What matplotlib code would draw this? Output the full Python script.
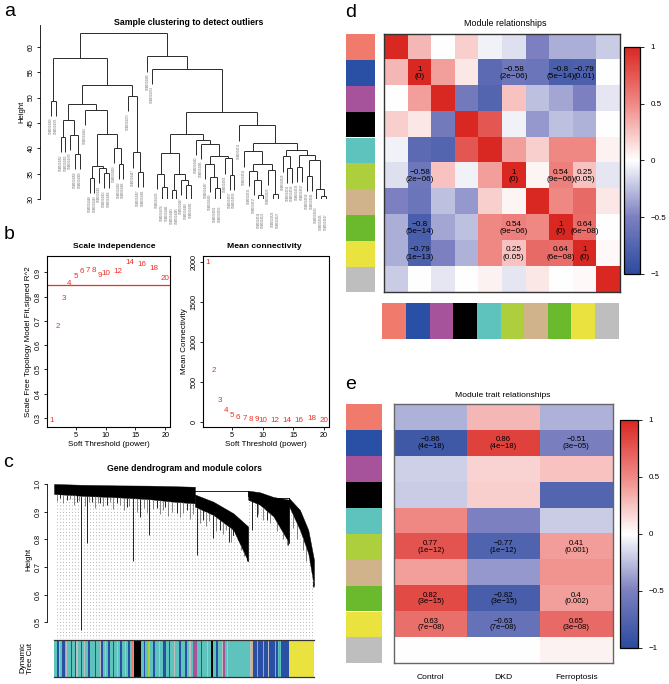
import numpy as np
import matplotlib
matplotlib.use("Agg")
import matplotlib.pyplot as plt
from matplotlib.colors import LinearSegmentedColormap, Normalize
from matplotlib.cm import ScalarMappable

plt.rcParams['font.family'] = ['Liberation Sans', 'DejaVu Sans']

W, H = 669, 684

# ======================= DATA =======================
# ---- panel a: sample clustering tree: [merge height, left, right]; "L" = sample leaf
L = "L"
sample_tree = [62.8,
  [57.8,
    [49.4, L, L],
    [52.5,
      [48.7,
        [45.6, [42.2, L, L], [42.6, L, [38.9, L, L]]],
        [47.6, L, [42.8, [36.6, [34.1, L, L], [36.1, L, [35.1, L, L]]],
                         [40.0, L, [36.9, L, L]]]]],
      [50.3, L, [39.2, L, [35.3, L, L]]]]],
  [58.1,
    L,
    [55.6, L,
      [47.1,
        [42.8,
          [39.0, [34.9, L, [32.4, L, L]], [35.0, [31.7, L, L], [33.8, L, [32.8, L, L]]]],
          [41.7, L, [40.9, L, [38.5, [36.9, L, [34.4, L, [32.1, L, L]]], [38.0, L, [34.8, L, L]]]]]],
        [44.5, L,
          [41.1,
            [39.4, L, [36.9, [35.6, L, [33.8, L, [30.8, L, L]]], [35.7, L, [31.0, L, L]]]],
            [39.7, [38.4, L, [36.2, L, L]],
                   [38.6, [36.4, L, L], [37.6, [34.6, L, L], [32.0, L, [30.5, L, L]]]]]]]]]]]
sample_names = [
 "GSM1004469", "GSM1004471", "GSM1004452", "GSM1004455", "GSM1004470", "GSM1004458",
 "GSM1004460", "GSM1004464", "GSM1004448", "GSM1004449", "GSM1004451", "GSM1004453",
 "GSM1004456", "GSM1004459", "GSM1004462", "GSM1004466", "GSM1004473", "GSM1004447",
 "GSM1004457", "GSM1004461", "GSM1004468", "GSM1004474", "GSM1004476", "GSM1004478",
 "GSM1004481", "GSM1004483", "GSM1004485", "GSM1004487", "GSM1004489", "GSM1004491",
 "GSM1004493", "GSM1004495", "GSM1004497", "GSM1004499", "GSM1004501", "GSM1004503",
 "GSM1004505", "GSM1004507", "GSM1004509", "GSM1004511", "GSM1004513", "GSM1004515",
 "GSM1004517", "GSM1004519", "GSM1004521", "GSM1004523", "GSM1004525", "GSM1004527",
 "GSM1004529", "GSM1004531", "GSM1004533", "GSM1004535", "GSM1004537", "GSM1004539",
 "GSM1004541", "GSM1004543", "GSM1004545", "GSM1004547"]

# ---- panel b: soft threshold analysis
powers = [1, 2, 3, 4, 5, 6, 7, 8, 9, 10, 12, 14, 16, 18, 20]
sft_r2 = [0.289, 0.679, 0.793, 0.856, 0.883, 0.904, 0.908, 0.908, 0.886, 0.895,
          0.904, 0.943, 0.932, 0.918, 0.875]
mean_k = [1996, 642, 261, 137, 83, 54, 46, 33, 25, 22, 21, 20, 17, 38, 15]
r2_cut = 0.85

# ---- panel c: gene dendrogram (x in % of gene order, y = height)
dense_x      = [[0, 11.3, 24.1, 36.9, 45.9, 54.2], [54.2, 61.3, 69.0, 74.7],
                [74.7, 79.2, 84.4, 90.5], [90.5, 94.6, 97.8, 100]]
dense_top    = [[1.0, 0.997, 0.995, 0.994, 0.992, 0.990], [0.962, 0.936, 0.894, 0.846],
                [0.976, 0.97, 0.953, 0.943], [0.948, 0.906, 0.834, 0.726]]
dense_bottom = [[0.964, 0.957, 0.952, 0.945, 0.936, 0.930], [0.918, 0.888, 0.834, 0.72],
                [0.943, 0.925, 0.883, 0.786], [0.918, 0.834, 0.750, 0.629]]
merge_lines = [(44.6, 74.7, 0.976), (84.4, 90.5, 0.948), (69.0, 74.1, 0.834)]
spike_x = [10.4, 12.8, 30.5, 36.7, 54.9, 61.3, 67.4, 74.1, 76.0, 90.1, 99.7,
           2.3, 4.9, 8.7, 14.5, 17.7, 20.3, 24.1, 27.9, 33.1, 39.5, 42.7, 47.2,
           51.0, 57.4, 63.8, 70.9, 77.9, 81.8, 86.9]
spike_h = [0.473, 0.786, 0.720, 0.816, 0.744, 0.804, 0.792, 0.720, 0.834, 0.780, 0.629,
           0.948, 0.942, 0.936, 0.936, 0.930, 0.924, 0.930, 0.918, 0.882, 0.912, 0.918, 0.894,
           0.906, 0.870, 0.834, 0.816, 0.882, 0.870, 0.846]
fringe_x = [1.0, 3.5, 6.0, 7.5, 9.5, 11.8, 13.6, 15.8, 16.9, 19.0, 21.5, 22.8, 25.5, 26.8,
            29.0, 31.8, 34.5, 35.8, 38.2, 40.8, 41.9, 44.0, 45.3, 48.5, 49.8, 52.5, 53.6,
            56.0, 58.6, 59.8, 62.5, 65.0, 66.2, 68.2, 71.8, 73.0, 78.6, 80.5, 83.0, 85.6,
            88.0, 89.5, 92.0, 93.6, 95.8, 97.0]
fringe_h = [0.94, 0.93, 0.945, 0.925, 0.94, 0.92, 0.935, 0.915, 0.93, 0.92, 0.935, 0.91,
            0.925, 0.905, 0.92, 0.90, 0.915, 0.895, 0.91, 0.89, 0.905, 0.885, 0.90, 0.88,
            0.895, 0.875, 0.89, 0.86, 0.85, 0.865, 0.83, 0.82, 0.835, 0.79, 0.76, 0.74,
            0.89, 0.87, 0.86, 0.83, 0.80, 0.78, 0.84, 0.80, 0.76, 0.72]
tree_cut = [
 ("turquoise", 1.2), ("blue", 0.6), ("grey", 0.5), ("turquoise", 0.8), ("blue", 1.0),
 ("turquoise", 0.6), ("grey", 0.4), ("turquoise", 1.4), ("blue", 0.5), ("turquoise", 0.9),
 ("blue", 0.7), ("grey", 0.6), ("turquoise", 1.1), ("blue", 0.4), ("turquoise", 0.8),
 ("grey", 0.5), ("turquoise", 1.0), ("blue", 0.9), ("turquoise", 0.6), ("greenyellow", 0.3),
 ("turquoise", 0.9), ("blue", 0.6), ("turquoise", 1.2), ("grey", 0.5), ("blue", 0.8),
 ("turquoise", 0.7), ("grey", 0.4), ("turquoise", 1.0), ("blue", 0.5), ("greenyellow", 0.3),
 ("turquoise", 0.8), ("blue", 0.7), ("turquoise", 1.0), ("grey", 0.4), ("turquoise", 0.9),
 ("blue", 0.6), ("turquoise", 1.1), ("grey", 0.5), ("turquoise", 0.9), ("blue", 0.5),
 ("turquoise", 0.8), ("salmon", 0.6), ("turquoise", 0.3), ("black", 2.7),
 ("turquoise", 1.0), ("blue", 0.6), ("turquoise", 1.2), ("greenyellow", 0.6),
 ("turquoise", 1.0), ("blue", 0.8), ("turquoise", 1.5), ("grey", 0.4), ("turquoise", 1.2),
 ("blue", 1.4), ("turquoise", 0.9), ("blue", 0.5), ("turquoise", 1.6), ("grey", 0.5),
 ("turquoise", 1.3), ("blue", 0.7), ("turquoise", 1.8), ("blue", 0.6), ("turquoise", 1.0),
 ("grey", 0.4), ("turquoise", 0.8), ("magenta", 1.6),
 ("turquoise", 1.5), ("blue", 0.6), ("turquoise", 2.0), ("grey", 0.4), ("turquoise", 1.0),
 ("black", 0.6), ("turquoise", 1.2), ("blue", 0.8), ("turquoise", 1.5), ("grey", 0.6),
 ("magenta", 0.7), ("turquoise", 0.6), ("grey", 0.7), ("turquoise", 8.3), ("grey", 0.4),
 ("tan", 0.6), ("blue", 1.5), ("turquoise", 0.4), ("blue", 2.0), ("turquoise", 0.3),
 ("blue", 1.8), ("grey", 0.3), ("blue", 2.2), ("turquoise", 0.3), ("blue", 1.1),
 ("turquoise", 0.3), ("green", 0.5), ("turquoise", 0.3), ("blue", 3.1), ("yellow", 9.5)]

# ---- panel d/e: modules
modules = ["salmon", "blue", "magenta", "black", "turquoise",
           "greenyellow", "tan", "green", "yellow", "grey"]
module_hex = {"salmon": "#F07B6D", "blue": "#2A50A6", "magenta": "#A6539B", "black": "#000000",
              "turquoise": "#5EC3BD", "greenyellow": "#ADCF3D", "tan": "#D1B38B",
              "green": "#6BB92D", "yellow": "#EAE33F", "grey": "#BEBEBE"}
module_corr = [
 [1.00, 0.30, 0.00, 0.20, -0.05, -0.12, -0.50, -0.32, -0.32, -0.20],
 [0.30, 1.00, 0.40, 0.10, -0.70, -0.58, -0.60, -0.80, -0.79, 0.00],
 [0.00, 0.40, 1.00, -0.55, -0.75, 0.25, -0.25, -0.35, -0.50, -0.10],
 [0.20, 0.10, -0.55, 1.00, 0.75, -0.05, -0.40, -0.25, -0.30, 0.00],
 [-0.05, -0.70, -0.75, 0.75, 1.00, 0.40, 0.20, 0.50, 0.50, 0.05],
 [-0.12, -0.58, 0.25, -0.05, 0.40, 1.00, 0.04, 0.54, 0.25, -0.10],
 [-0.50, -0.60, -0.25, -0.40, 0.20, 0.04, 1.00, 0.50, 0.65, 0.10],
 [-0.32, -0.80, -0.35, -0.25, 0.50, 0.54, 0.50, 1.00, 0.64, 0.00],
 [-0.32, -0.79, -0.50, -0.30, 0.50, 0.25, 0.65, 0.64, 1.00, 0.03],
 [-0.20, 0.00, -0.10, 0.00, 0.05, -0.10, 0.10, 0.00, 0.03, 1.00]]
module_corr_text = {
 (1, 1): "1\n(0)", (1, 5): "\u22120.58\n(2e\u221206)", (1, 7): "\u22120.8\n(5e\u221214)", (1, 8): "\u22120.79\n(0.01)",
 (5, 1): "\u22120.58\n(2e\u221206)", (5, 5): "1\n(0)", (5, 7): "0.54\n(9e\u221206)", (5, 8): "0.25\n(0.05)",
 (7, 1): "\u22120.8\n(5e\u221214)", (7, 5): "0.54\n(9e\u221206)", (7, 7): "1\n(0)", (7, 8): "0.64\n(6e\u221208)",
 (8, 1): "\u22120.79\n(1e\u221213)", (8, 5): "0.25\n(0.05)", (8, 7): "0.64\n(6e\u221208)", (8, 8): "1\n(0)"}

traits = ["Control", "DKD", "Ferroptosis"]
trait_corr = [
 [-0.30, 0.30, -0.30],
 [-0.86, 0.86, -0.51],
 [-0.18, 0.18, 0.25],
 [-0.20, 0.20, -0.75],
 [0.50, -0.50, -0.20],
 [0.77, -0.77, 0.41],
 [0.40, -0.40, 0.45],
 [0.82, -0.82, 0.40],
 [0.63, -0.63, 0.65],
 [0.00, 0.00, 0.05]]
trait_text = {
 (1, 0): "\u22120.86\n(4e\u221218)", (1, 1): "0.86\n(4e\u221218)", (1, 2): "\u22120.51\n(3e\u221205)",
 (5, 0): "0.77\n(1e\u221212)", (5, 1): "\u22120.77\n(1e\u221212)", (5, 2): "0.41\n(0.001)",
 (7, 0): "0.82\n(3e\u221215)", (7, 1): "\u22120.82\n(3e\u221215)", (7, 2): "0.4\n(0.002)",
 (8, 0): "0.63\n(7e\u221208)", (8, 1): "\u22120.63\n(7e\u221208)", (8, 2): "0.65\n(3e\u221208)"}
cbar_ticks = [-1, -0.5, 0, 0.5, 1]
cbar_labels = ["\u22121", "\u22120.5", "0", "0.5", "1"]

# ======================= FIGURE =======================
fig = plt.figure(figsize=(W / 100, H / 100), dpi=100)


def box(l, t, r, b):
    return fig.add_axes([l / W, 1 - b / H, (r - l) / W, (b - t) / H])


def ftext(x, y, s, **kw):
    fig.text(x / W, 1 - y / H, s, **kw)


LINE = "#2a2a2a"
RED = "#EE2E24"
cmap = LinearSegmentedColormap.from_list(
    "bwr", [(0, "#2B4B9F"), (0.25, "#7C80C0"), (0.5, "#FFFFFF"), (0.75, "#F08985"), (1, "#D92722")])

# panel letters
for letter, x, y in [("a", 4, 16), ("b", 4, 239), ("c", 3, 467), ("d", 345, 16.7), ("e", 345, 389.3)]:
    ftext(x, y, letter, fontsize=14, va="baseline", ha="left")

# ---------------- panel a ----------------
axa = box(40, 25, 334, 199)
axa.set_xlim(-2.28, 58.66)
axa.set_ylim(30, 64.3)
for sp in ["top", "right", "bottom"]:
    axa.spines[sp].set_visible(False)
axa.spines["left"].set_linewidth(0.6)
axa.set_xticks([])
axa.set_yticks([30, 35, 40, 45, 50, 55, 60])
axa.tick_params(axis="y", length=2.5, width=0.6, pad=1.2, labelsize=5, labelrotation=90)
for lab in axa.get_yticklabels():
    lab.set_va("center")
axa.set_ylabel("Height", fontsize=5.5, labelpad=2)
hang = 3.0
leaf_counter = [0]


def place(node):
    if node == L:
        i = leaf_counter[0]
        leaf_counter[0] += 1
        return i, None
    h, a, b = node
    xa, ha = place(a)
    xb, hb = place(b)
    for x_, h_ in ((xa, ha), (xb, hb)):
        if h_ is None:
            axa.plot([x_, x_], [h, h - hang], color=LINE, lw=0.7, solid_capstyle="butt")
            axa.text(x_, h - hang - 0.4, sample_names[x_], rotation=90, ha="center", va="top",
                     fontsize=1.9, color="#666666", clip_on=False)
        else:
            axa.plot([x_, x_], [h, h_], color=LINE, lw=0.7, solid_capstyle="butt")
    axa.plot([xa, xb], [h, h], color=LINE, lw=0.7, solid_capstyle="butt")
    return (xa + xb) / 2, h


place(sample_tree)
ftext(189, 25, "Sample clustering to detect outliers", fontsize=6.3, fontweight="bold",
      ha="center", va="baseline")

# ---------------- panel b ----------------
def r_lim(v):
    lo, hi = min(v), max(v)
    d = 0.04 * (hi - lo)
    return lo - d, hi + d


axb1 = box(47, 255.7, 170, 427)
axb2 = box(203, 255.7, 328.5, 427)
for ax, vals in ((axb1, sft_r2), (axb2, mean_k)):
    ax.set_xlim(*r_lim(powers))
    ax.set_ylim(*r_lim(vals))
    for p, v in zip(powers, vals):
        ax.text(p, v, str(p), color=RED, fontsize=5.8, ha="center", va="center")
    for sp in ax.spines.values():
        sp.set_linewidth(0.8)
    ax.set_xticks([5, 10, 15, 20])
    ax.tick_params(length=2.5, width=0.6, pad=1.2, labelsize=5.2)
    ax.set_xlabel("Soft Threshold (power)", fontsize=5.8, labelpad=1.5)
axb1.axhline(r2_cut, color=RED, lw=0.9)
axb1.set_yticks([0.3, 0.4, 0.5, 0.6, 0.7, 0.8, 0.9])
axb2.set_yticks([0, 500, 1000, 1500, 2000])
for ax in (axb1, axb2):
    ax.tick_params(axis="y", labelrotation=90)
    for lab in ax.get_yticklabels():
        lab.set_va("center")
axb1.set_ylabel("Scale Free Topology Model Fit,signed R^2", fontsize=5.8, labelpad=2)
axb2.set_ylabel("Mean Connectivity", fontsize=5.8, labelpad=2)
ftext(113.8, 248.3, "Scale independence", fontsize=6.1, fontweight="bold", ha="center", va="baseline")
ftext(264.7, 248.3, "Mean connectivity", fontsize=6.1, fontweight="bold", ha="center", va="baseline")

# ---------------- panel c ----------------
axc = box(47, 480, 321, 639)
axc.set_xlim(-2.7, 102.7)
axc.set_ylim(0.44, 1.0144)
for sp in ["top", "right", "bottom"]:
    axc.spines[sp].set_visible(False)
axc.spines["left"].set_bounds(0.5, 1.0)
axc.spines["left"].set_linewidth(0.6)
axc.set_xticks([])
axc.set_yticks([0.5, 0.6, 0.7, 0.8, 0.9, 1.0])
axc.tick_params(axis="y", length=2.5, width=0.6, pad=1.2, labelsize=5.2, labelrotation=90)
for lab in axc.get_yticklabels():
    lab.set_va("center")
axc.set_ylabel("Height", fontsize=5.8, labelpad=2)

env_x = np.concatenate([np.array(v) for v in dense_x])
env_b = np.concatenate([np.array(v) for v in dense_bottom])
order = np.argsort(env_x, kind="stable")
env_x, env_b = env_x[order], env_b[order]
guide_x = np.linspace(1.2, 99.2, 86)
axc.vlines(guide_x, 0.44, np.interp(guide_x, env_x, env_b), color="#9a9a9a", lw=0.6,
           linestyles=(0, (1, 3)))
axc.vlines(fringe_x, fringe_h, np.interp(fringe_x, env_x, env_b), color="#555555", lw=0.5)
for xs, tp, bt in zip(dense_x, dense_top, dense_bottom):
    axc.fill_between(xs, bt, tp, color="black", lw=0.3)
for x1, x2, h in merge_lines:
    axc.plot([x1, x2], [h, h], color="black", lw=0.6)
    for xx in (x1, x2):
        axc.plot([xx, xx], [h, h - 0.02], color="black", lw=0.6)
axc.vlines(spike_x, spike_h, np.interp(spike_x, env_x, env_b), color="black", lw=0.6)
ftext(184.2, 470.7, "Gene dendrogram and module colors", fontsize=6.2, fontweight="bold",
      ha="center", va="baseline")

axs = box(54, 640, 314, 677)
widths = [w for _, w in tree_cut]
lefts = np.concatenate([[0], np.cumsum(widths)[:-1]])
axs.barh(0, widths, left=lefts, height=1, color=[module_hex[c] for c, _ in tree_cut],
         align="edge", lw=0)
axs.set_xlim(0, sum(widths))
axs.set_ylim(0, 1)
axs.set_xticks([]); axs.set_yticks([])
for sp in ["left", "right"]:
    axs.spines[sp].set_visible(False)
for sp in ["top", "bottom"]:
    axs.spines[sp].set_linewidth(0.9)
    axs.spines[sp].set_color("#333333")
ftext(27, 658, "Dynamic\nTree Cut", fontsize=5.8, rotation=90, ha="center", va="center",
      linespacing=1.1)

# ---------------- panel d ----------------
norm = Normalize(-1, 1)
axd = box(384.3, 34.3, 619.7, 292.3)
axd.imshow(np.array(module_corr), cmap=cmap, norm=norm, aspect="auto", interpolation="nearest")
for (r, c), s in module_corr_text.items():
    axd.text(c, r, s, ha="center", va="center", fontsize=5.9, linespacing=1.05)
axd.set_xticks([]); axd.set_yticks([])
for sp in axd.spines.values():
    sp.set_linewidth(1.0); sp.set_color("#333333")

axdl = box(346, 34.3, 375, 292.3)
axdl.barh(range(len(modules)), 1, height=1, color=[module_hex[m] for m in modules], lw=0)
axdl.set_ylim(len(modules) - 0.5, -0.5); axdl.set_xlim(0, 1); axdl.axis("off")
axdb = box(382.3, 302.7, 618.7, 339)
axdb.bar(range(len(modules)), 1, width=1, color=[module_hex[m] for m in modules], lw=0)
axdb.set_xlim(-0.5, len(modules) - 0.5); axdb.set_ylim(0, 1); axdb.axis("off")
ftext(505.7, 25.7, "Module relationships", fontsize=6.4, ha="center", va="baseline")

cbd = box(624.3, 46.7, 640, 274)
cb = fig.colorbar(ScalarMappable(norm=norm, cmap=cmap), cax=cbd)
cb.set_ticks(cbar_ticks, labels=cbar_labels)
cb.outline.set_linewidth(0.9)
cbd.tick_params(length=3, width=0.6, pad=4.5, labelsize=5.8)

# ---------------- panel e ----------------
axe = box(394.3, 404.3, 612.7, 663.3)
axe.imshow(np.array(trait_corr), cmap=cmap, norm=norm, aspect="auto", interpolation="nearest")
for (r, c), s in trait_text.items():
    axe.text(c, r, s, ha="center", va="center", fontsize=5.6, linespacing=0.95)
axe.set_yticks([])
axe.set_xticks(range(len(traits)), labels=traits)
axe.tick_params(axis="x", length=0, pad=8, labelsize=6.1)
for sp in axe.spines.values():
    sp.set_linewidth(1.0); sp.set_color("#666666")
axel = box(346, 404.3, 382.3, 663.3)
axel.barh(range(len(modules)), 1, height=1, color=[module_hex[m] for m in modules], lw=0)
axel.set_ylim(len(modules) - 0.5, -0.5); axel.set_xlim(0, 1); axel.axis("off")
ftext(502.7, 397.3, "Module trait relationships", fontsize=6.1, ha="center", va="baseline")

cbe = box(620, 420, 638.3, 647.7)
cb2 = fig.colorbar(ScalarMappable(norm=norm, cmap=cmap), cax=cbe)
cb2.set_ticks(cbar_ticks, labels=cbar_labels)
cb2.outline.set_linewidth(0.9)
cbe.tick_params(length=3, width=0.6, pad=4.5, labelsize=5.8)

fig.savefig("out.png", dpi=100)
